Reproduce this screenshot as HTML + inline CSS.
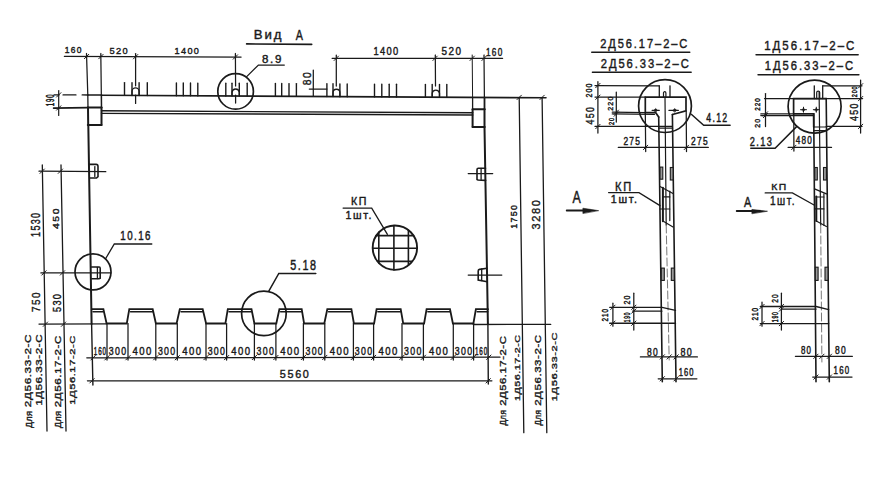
<!DOCTYPE html>
<html><head><meta charset="utf-8"><style>
html,body{margin:0;padding:0;background:#fff;}
svg{display:block;}
</style></head><body>
<svg width="893" height="477" viewBox="0 0 893 477">
<rect width="893" height="477" fill="#ffffff"/>
<g stroke="#1a1a1a" stroke-linecap="round" fill="none">
<line x1="246.6" y1="43.9" x2="311.7" y2="44.4" stroke-width="1.6"/>
<line x1="64.4" y1="56.4" x2="241.1" y2="57.1" stroke-width="1.25"/>
<line x1="332.1" y1="58.3" x2="502.6" y2="58.3" stroke-width="1.25"/>
<line x1="84.4" y1="58.7" x2="88.8" y2="54.3" stroke-width="1.0"/>
<line x1="98.7" y1="58.8" x2="103.1" y2="54.4" stroke-width="1.0"/>
<line x1="133.4" y1="58.9" x2="137.8" y2="54.5" stroke-width="1.0"/>
<line x1="233.2" y1="59.2" x2="237.6" y2="54.8" stroke-width="1.0"/>
<line x1="334.1" y1="60.5" x2="338.5" y2="56.1" stroke-width="1.0"/>
<line x1="432.9" y1="60.5" x2="437.3" y2="56.1" stroke-width="1.0"/>
<line x1="470.0" y1="60.5" x2="474.4" y2="56.1" stroke-width="1.0"/>
<line x1="481.9" y1="60.5" x2="486.3" y2="56.1" stroke-width="1.0"/>
<line x1="86.5" y1="53.5" x2="87.8" y2="95.0" stroke-width="1.25"/>
<line x1="100.8" y1="53.5" x2="101.5" y2="108.0" stroke-width="1.25"/>
<line x1="135.6" y1="53.5" x2="135.6" y2="85.8" stroke-width="1.25"/>
<line x1="135.6" y1="95.0" x2="135.6" y2="103.4" stroke-width="1.25"/>
<line x1="235.4" y1="53.5" x2="235.6" y2="86.0" stroke-width="1.25"/>
<line x1="235.6" y1="95.0" x2="235.6" y2="103.0" stroke-width="1.25"/>
<line x1="336.3" y1="55.0" x2="336.3" y2="86.0" stroke-width="1.25"/>
<line x1="435.3" y1="55.0" x2="435.5" y2="86.0" stroke-width="1.25"/>
<line x1="472.2" y1="55.0" x2="472.6" y2="97.5" stroke-width="1.0"/>
<line x1="484.0" y1="55.0" x2="484.4" y2="97.5" stroke-width="1.25"/>
<line x1="101.5" y1="95.2" x2="546.0" y2="97.8" stroke-width="1.6"/>
<line x1="54.0" y1="94.9" x2="59.0" y2="94.9" stroke-width="1.3"/>
<line x1="63.1" y1="94.9" x2="75.9" y2="94.9" stroke-width="1.4"/>
<line x1="82.2" y1="94.9" x2="87.8" y2="95.0" stroke-width="1.4"/>
<line x1="87.8" y1="95.0" x2="101.5" y2="95.0" stroke-width="1.6"/>
<line x1="124.5" y1="82.6" x2="124.5" y2="95.4" stroke-width="1.4"/>
<line x1="132.0" y1="82.7" x2="132.0" y2="95.5" stroke-width="1.4"/>
<line x1="139.1" y1="82.7" x2="139.1" y2="95.5" stroke-width="1.4"/>
<line x1="147.3" y1="82.8" x2="147.3" y2="95.6" stroke-width="1.4"/>
<path d="M132.0,94.5 V91.5 A3.5,3.5 0 0 1 139.1,91.5 V94.5" fill="none" stroke-width="1.3"/>
<line x1="176.4" y1="82.9" x2="176.4" y2="95.7" stroke-width="1.4"/>
<line x1="183.3" y1="83.0" x2="183.3" y2="95.8" stroke-width="1.4"/>
<line x1="190.5" y1="83.0" x2="190.5" y2="95.8" stroke-width="1.4"/>
<line x1="197.8" y1="83.1" x2="197.8" y2="95.9" stroke-width="1.4"/>
<line x1="225.8" y1="83.2" x2="225.8" y2="96.0" stroke-width="1.4"/>
<line x1="232.0" y1="83.3" x2="232.0" y2="96.1" stroke-width="1.4"/>
<line x1="239.3" y1="83.3" x2="239.3" y2="96.1" stroke-width="1.4"/>
<line x1="247.2" y1="83.3" x2="247.2" y2="96.1" stroke-width="1.4"/>
<path d="M232.0,95.1 V92.1 A3.7,3.7 0 0 1 239.3,92.1 V95.1" fill="none" stroke-width="1.3"/>
<line x1="275.4" y1="83.5" x2="275.4" y2="96.3" stroke-width="1.4"/>
<line x1="281.7" y1="83.5" x2="281.7" y2="96.3" stroke-width="1.4"/>
<line x1="289.0" y1="83.6" x2="289.0" y2="96.4" stroke-width="1.4"/>
<line x1="296.4" y1="83.6" x2="296.4" y2="96.4" stroke-width="1.4"/>
<line x1="326.9" y1="83.8" x2="326.9" y2="96.6" stroke-width="1.4"/>
<line x1="333.0" y1="83.8" x2="333.0" y2="96.6" stroke-width="1.4"/>
<line x1="339.9" y1="83.9" x2="339.9" y2="96.7" stroke-width="1.4"/>
<line x1="347.2" y1="83.9" x2="347.2" y2="96.7" stroke-width="1.4"/>
<path d="M333.0,95.7 V92.7 A3.4,3.4 0 0 1 339.9,92.7 V95.7" fill="none" stroke-width="1.3"/>
<line x1="374.5" y1="84.1" x2="374.5" y2="96.9" stroke-width="1.4"/>
<line x1="381.8" y1="84.1" x2="381.8" y2="96.9" stroke-width="1.4"/>
<line x1="389.2" y1="84.2" x2="389.2" y2="97.0" stroke-width="1.4"/>
<line x1="396.5" y1="84.2" x2="396.5" y2="97.0" stroke-width="1.4"/>
<line x1="425.4" y1="84.4" x2="425.4" y2="97.2" stroke-width="1.4"/>
<line x1="432.2" y1="84.4" x2="432.2" y2="97.2" stroke-width="1.4"/>
<line x1="439.5" y1="84.5" x2="439.5" y2="97.3" stroke-width="1.4"/>
<line x1="446.8" y1="84.5" x2="446.8" y2="97.3" stroke-width="1.4"/>
<path d="M432.2,96.2 V93.2 A3.7,3.7 0 0 1 439.5,93.2 V96.2" fill="none" stroke-width="1.3"/>
<line x1="313.3" y1="70.1" x2="313.3" y2="96.2" stroke-width="1.25"/>
<line x1="309.3" y1="89.1" x2="326.9" y2="89.1" stroke-width="1.25"/>
<circle cx="235.6" cy="91.4" r="17.8" fill="none" stroke-width="1.7"/>
<polyline points="246.7,76.6 258.4,65.1 284.3,65.1" fill="none" stroke-width="1.3"/>
<line x1="87.8" y1="95.0" x2="88.0" y2="107.5" stroke-width="1.3"/>
<line x1="101.5" y1="95.0" x2="101.5" y2="107.5" stroke-width="1.3"/>
<line x1="88.0" y1="107.5" x2="88.2" y2="125.0" stroke-width="2.0"/>
<line x1="101.5" y1="107.5" x2="101.5" y2="125.0" stroke-width="2.0"/>
<line x1="87.8" y1="107.5" x2="101.5" y2="107.5" stroke-width="2.0"/>
<line x1="87.8" y1="125.0" x2="101.5" y2="125.0" stroke-width="2.0"/>
<line x1="58.7" y1="90.5" x2="58.7" y2="115.4" stroke-width="1.2"/>
<line x1="56.5" y1="97.1" x2="60.9" y2="92.7" stroke-width="1.0"/>
<line x1="56.5" y1="110.2" x2="60.9" y2="105.8" stroke-width="1.0"/>
<line x1="53.6" y1="108.1" x2="87.8" y2="107.6" stroke-width="1.7"/>
<line x1="101.5" y1="110.8" x2="472.8" y2="112.8" stroke-width="1.4"/>
<line x1="101.5" y1="113.4" x2="472.8" y2="115.0" stroke-width="1.4"/>
<line x1="472.6" y1="97.5" x2="472.6" y2="109.3" stroke-width="1.3"/>
<line x1="484.5" y1="97.5" x2="484.5" y2="109.3" stroke-width="1.8"/>
<line x1="472.6" y1="109.3" x2="472.6" y2="127.0" stroke-width="2.0"/>
<line x1="484.5" y1="109.3" x2="484.5" y2="127.0" stroke-width="2.0"/>
<line x1="472.6" y1="109.3" x2="484.5" y2="109.3" stroke-width="2.0"/>
<line x1="472.6" y1="127.0" x2="484.5" y2="127.0" stroke-width="2.0"/>
<line x1="88.3" y1="125.0" x2="91.6" y2="324.0" stroke-width="2.0"/>
<line x1="91.6" y1="324.0" x2="92.9" y2="385.0" stroke-width="1.4"/>
<line x1="484.5" y1="127.0" x2="487.9" y2="324.0" stroke-width="2.0"/>
<line x1="487.9" y1="324.0" x2="488.3" y2="384.0" stroke-width="1.4"/>
<line x1="519.2" y1="97.4" x2="523.8" y2="432.7" stroke-width="1.3"/>
<line x1="542.1" y1="97.4" x2="546.8" y2="432.7" stroke-width="1.3"/>
<line x1="517.0" y1="99.6" x2="521.4" y2="95.2" stroke-width="1.0"/>
<line x1="539.9" y1="99.6" x2="544.3" y2="95.2" stroke-width="1.0"/>
<line x1="40.0" y1="173.4" x2="44.4" y2="169.0" stroke-width="1.0"/>
<line x1="58.2" y1="173.4" x2="62.6" y2="169.0" stroke-width="1.0"/>
<line x1="41.8" y1="275.1" x2="46.2" y2="270.7" stroke-width="1.0"/>
<line x1="60.3" y1="275.1" x2="64.7" y2="270.7" stroke-width="1.0"/>
<line x1="39.0" y1="324.1" x2="106.0" y2="323.9" stroke-width="1.3"/>
<line x1="43.2" y1="326.4" x2="47.6" y2="322.0" stroke-width="1.0"/>
<line x1="61.3" y1="326.4" x2="65.7" y2="322.0" stroke-width="1.0"/>
<path d="M89.2,164.4 H96.2 Q98,164.4 98,166.6 V176.7 L96.5,178 H90.3" fill="none" stroke-width="1.6"/>
<line x1="94.8" y1="166.6" x2="94.8" y2="176.4" stroke-width="1.3"/>
<line x1="39.0" y1="171.2" x2="105.8" y2="171.7" stroke-width="1.25"/>
<path d="M91.6,267 H99.2 Q100.2,267 100.2,268.5 V278.3 L99,278.8 H91.8" fill="none" stroke-width="1.6"/>
<line x1="97.4" y1="267.3" x2="97.4" y2="278.6" stroke-width="1.3"/>
<line x1="40.9" y1="272.9" x2="111.0" y2="272.9" stroke-width="1.25"/>
<path d="M485.5,168.2 H478.3 Q477,168.2 477,169.8 V179.5 L478,180 L485.6,180.4" fill="none" stroke-width="1.6"/>
<line x1="481.1" y1="168.5" x2="481.1" y2="179.5" stroke-width="1.3"/>
<line x1="468.2" y1="173.5" x2="492.7" y2="173.5" stroke-width="1.25"/>
<path d="M487,268.2 L479.5,269.4 Q478.2,269.6 478.2,271 V280.1 L487.2,281.7" fill="none" stroke-width="1.6"/>
<line x1="481.7" y1="269.0" x2="481.7" y2="280.6" stroke-width="1.3"/>
<line x1="468.2" y1="275.1" x2="501.8" y2="275.1" stroke-width="1.25"/>
<circle cx="93.0" cy="271.8" r="18.0" fill="none" stroke-width="1.7"/>
<polyline points="105.4,259.0 114.3,244.0 151.8,244.0" fill="none" stroke-width="1.3"/>
<circle cx="394.9" cy="247.7" r="22.2" fill="none" stroke-width="1.9"/>
<line x1="378.8" y1="232.4" x2="378.8" y2="263.0" stroke-width="1.6"/>
<line x1="393.9" y1="225.5" x2="393.9" y2="269.9" stroke-width="1.6"/>
<line x1="408.4" y1="230.1" x2="408.4" y2="265.3" stroke-width="1.6"/>
<line x1="376.3" y1="235.6" x2="413.5" y2="235.6" stroke-width="1.6"/>
<line x1="372.7" y1="248.2" x2="417.1" y2="248.2" stroke-width="1.6"/>
<line x1="377.4" y1="261.4" x2="412.4" y2="261.4" stroke-width="1.6"/>
<polyline points="343.1,208.1 371.7,208.1 387.4,234.3" fill="none" stroke-width="1.3"/>
<polyline points="91.8,309.2 103.4,309.2 106.6,323.5 126.8,323.5 129.3,309.2 152.7,309.2 155.9,323.5 176.6,323.5 179.8,309.2 202.7,309.2 206.1,323.5 225.4,323.5 227.8,309.2 251.5,309.2 254.4,323.5 276.3,323.5 279.4,309.2 301.7,309.2 304.1,323.5 324.3,323.5 327.3,309.2 351.4,309.2 353.9,323.5 374.1,323.5 376.6,309.2 400.7,309.2 403.2,323.5 424.1,323.5 426.6,309.2 450.0,309.2 452.9,323.5 473.4,323.5 475.9,309.2 488.0,309.2" fill="none" stroke-width="1.8"/>
<line x1="93.0" y1="311.8" x2="103.2" y2="311.8" stroke-width="1.5"/>
<line x1="130.5" y1="311.8" x2="152.5" y2="311.8" stroke-width="1.5"/>
<line x1="181.0" y1="311.8" x2="202.5" y2="311.8" stroke-width="1.5"/>
<line x1="229.0" y1="311.8" x2="251.3" y2="311.8" stroke-width="1.5"/>
<line x1="280.6" y1="311.8" x2="301.5" y2="311.8" stroke-width="1.5"/>
<line x1="328.5" y1="311.8" x2="351.2" y2="311.8" stroke-width="1.5"/>
<line x1="377.8" y1="311.8" x2="400.5" y2="311.8" stroke-width="1.5"/>
<line x1="427.8" y1="311.8" x2="449.8" y2="311.8" stroke-width="1.5"/>
<line x1="477.1" y1="311.8" x2="487.8" y2="311.8" stroke-width="1.5"/>
<circle cx="263.9" cy="313.4" r="22.3" fill="none" stroke-width="1.7"/>
<polyline points="268.8,291.2 278.8,273.5 315.8,273.5" fill="none" stroke-width="1.5"/>
<line x1="107.0" y1="323.5" x2="107.0" y2="360.0" stroke-width="1.25"/>
<line x1="128.0" y1="323.5" x2="128.0" y2="360.0" stroke-width="1.25"/>
<line x1="155.8" y1="323.5" x2="155.8" y2="360.0" stroke-width="1.25"/>
<line x1="177.3" y1="323.5" x2="177.3" y2="360.0" stroke-width="1.25"/>
<line x1="206.0" y1="323.5" x2="206.0" y2="360.0" stroke-width="1.25"/>
<line x1="226.6" y1="323.5" x2="226.6" y2="360.0" stroke-width="1.25"/>
<line x1="254.4" y1="323.5" x2="254.4" y2="360.0" stroke-width="1.25"/>
<line x1="275.9" y1="323.5" x2="275.9" y2="360.0" stroke-width="1.25"/>
<line x1="303.4" y1="323.5" x2="303.4" y2="360.0" stroke-width="1.25"/>
<line x1="324.8" y1="323.5" x2="324.8" y2="360.0" stroke-width="1.25"/>
<line x1="353.4" y1="323.5" x2="353.4" y2="360.0" stroke-width="1.25"/>
<line x1="373.6" y1="323.5" x2="373.6" y2="360.0" stroke-width="1.25"/>
<line x1="402.0" y1="323.5" x2="402.0" y2="360.0" stroke-width="1.25"/>
<line x1="423.4" y1="323.5" x2="423.4" y2="360.0" stroke-width="1.25"/>
<line x1="453.3" y1="323.5" x2="453.3" y2="360.0" stroke-width="1.25"/>
<line x1="473.6" y1="323.5" x2="473.6" y2="360.0" stroke-width="1.25"/>
<line x1="86.8" y1="357.8" x2="500.0" y2="357.2" stroke-width="1.3"/>
<line x1="90.9" y1="360.0" x2="95.3" y2="355.6" stroke-width="1.0"/>
<line x1="104.8" y1="360.0" x2="109.2" y2="355.6" stroke-width="1.0"/>
<line x1="125.8" y1="359.9" x2="130.2" y2="355.5" stroke-width="1.0"/>
<line x1="153.6" y1="359.9" x2="158.0" y2="355.5" stroke-width="1.0"/>
<line x1="175.1" y1="359.9" x2="179.5" y2="355.5" stroke-width="1.0"/>
<line x1="203.8" y1="359.8" x2="208.2" y2="355.4" stroke-width="1.0"/>
<line x1="224.4" y1="359.8" x2="228.8" y2="355.4" stroke-width="1.0"/>
<line x1="252.2" y1="359.7" x2="256.6" y2="355.3" stroke-width="1.0"/>
<line x1="273.7" y1="359.7" x2="278.1" y2="355.3" stroke-width="1.0"/>
<line x1="301.2" y1="359.7" x2="305.6" y2="355.3" stroke-width="1.0"/>
<line x1="322.6" y1="359.6" x2="327.0" y2="355.2" stroke-width="1.0"/>
<line x1="351.2" y1="359.6" x2="355.6" y2="355.2" stroke-width="1.0"/>
<line x1="371.4" y1="359.6" x2="375.8" y2="355.2" stroke-width="1.0"/>
<line x1="399.8" y1="359.5" x2="404.2" y2="355.1" stroke-width="1.0"/>
<line x1="421.2" y1="359.5" x2="425.6" y2="355.1" stroke-width="1.0"/>
<line x1="451.1" y1="359.5" x2="455.5" y2="355.1" stroke-width="1.0"/>
<line x1="471.4" y1="359.4" x2="475.8" y2="355.0" stroke-width="1.0"/>
<line x1="486.6" y1="359.4" x2="491.0" y2="355.0" stroke-width="1.0"/>
<line x1="87.4" y1="380.8" x2="491.9" y2="380.8" stroke-width="1.25"/>
<line x1="89.8" y1="383.0" x2="94.2" y2="378.6" stroke-width="1.0"/>
<line x1="486.0" y1="383.0" x2="490.4" y2="378.6" stroke-width="1.0"/>
<line x1="42.3" y1="165.0" x2="47.0" y2="431.0" stroke-width="1.3"/>
<line x1="61.0" y1="165.0" x2="66.0" y2="431.0" stroke-width="1.3"/>
<line x1="473.2" y1="324.5" x2="550.7" y2="324.4" stroke-width="1.3"/>
<line x1="591.7" y1="52.2" x2="689.8" y2="52.2" stroke-width="1.4"/>
<line x1="592.4" y1="72.3" x2="691.2" y2="72.3" stroke-width="1.4"/>
<circle cx="665.0" cy="106.1" r="26.4" fill="none" stroke-width="1.7"/>
<line x1="597.9" y1="81.7" x2="597.9" y2="133.0" stroke-width="1.25"/>
<line x1="595.7" y1="87.7" x2="600.1" y2="83.3" stroke-width="1.0"/>
<line x1="595.7" y1="99.4" x2="600.1" y2="95.0" stroke-width="1.0"/>
<line x1="595.7" y1="128.7" x2="600.1" y2="124.3" stroke-width="1.0"/>
<line x1="595.0" y1="85.6" x2="659.3" y2="85.8" stroke-width="1.25"/>
<line x1="595.0" y1="97.1" x2="645.3" y2="97.1" stroke-width="1.25"/>
<line x1="595.0" y1="126.4" x2="672.4" y2="126.4" stroke-width="1.25"/>
<line x1="616.3" y1="92.1" x2="616.3" y2="122.0" stroke-width="1.25"/>
<line x1="614.1" y1="114.5" x2="618.5" y2="110.1" stroke-width="1.0"/>
<line x1="614.1" y1="116.3" x2="618.5" y2="111.9" stroke-width="1.0"/>
<line x1="612.3" y1="112.2" x2="645.3" y2="112.7" stroke-width="1.25"/>
<line x1="612.3" y1="113.9" x2="654.5" y2="114.3" stroke-width="1.25"/>
<polyline points="658.7,117.0 655.7,112.7 645.3,112.7 645.3,97.1 686.0,97.1 686.0,110.9 672.4,114.5" fill="none" stroke-width="1.7"/>
<line x1="659.3" y1="85.8" x2="659.3" y2="97.1" stroke-width="1.3"/>
<path d="M663.5,97.1 V92.9 A1.2,1.2 0 0 1 665.9,92.9 V97.1" fill="none" stroke-width="1.2"/>
<line x1="670.0" y1="85.8" x2="670.0" y2="97.1" stroke-width="1.3"/>
<line x1="652.1" y1="110.3" x2="659.3" y2="110.3" stroke-width="1.25"/>
<line x1="668.9" y1="110.3" x2="678.4" y2="110.3" stroke-width="1.25"/>
<path d="M653.9,110.3 L655.7,108.5 L657.5,110.3 L655.7,112.1 Z" fill="#1a1a1a" stroke-width="0.6"/>
<path d="M673.0,110.3 L674.8,108.5 L676.6,110.3 L674.8,112.1 Z" fill="#1a1a1a" stroke-width="0.6"/>
<line x1="658.7" y1="117.0" x2="662.3" y2="381.8" stroke-width="1.6"/>
<line x1="672.4" y1="114.5" x2="676.0" y2="381.8" stroke-width="1.6"/>
<line x1="665.0" y1="97.1" x2="666.2" y2="225.0" stroke-width="1.2"/>
<line x1="666.2" y1="225" x2="669.2" y2="360" stroke-width="0.8" stroke-dasharray="8,3" stroke="#555"/>
<line x1="658.9" y1="128.2" x2="672.6" y2="128.2" stroke-width="1.25"/>
<line x1="645.3" y1="112.7" x2="645.7" y2="151.6" stroke-width="1.25"/>
<line x1="686.2" y1="110.9" x2="686.5" y2="151.6" stroke-width="1.25"/>
<line x1="618.3" y1="147.4" x2="708.3" y2="147.4" stroke-width="1.25"/>
<line x1="643.4" y1="149.6" x2="647.8" y2="145.2" stroke-width="1.0"/>
<line x1="684.2" y1="149.6" x2="688.6" y2="145.2" stroke-width="1.0"/>
<polyline points="691.3,114.2 703.7,125.2 730.1,125.2" fill="none" stroke-width="1.5"/>
<line x1="566.7" y1="210.5" x2="590.0" y2="210.5" stroke-width="1.8"/>
<path d="M598.3,210.6 L582.9,208.2 L582.9,213.2 Z" fill="#1a1a1a" stroke-width="0.6"/>
<polyline points="608.6,192.6 639.0,192.6 660.0,205.6" fill="none" stroke-width="1.3"/>
<rect x="660.0" y="167.1" width="2.8" height="12.1" fill="#9a9a9a" stroke-width="1.1"/>
<rect x="670.3" y="167.5" width="2.8" height="12.5" fill="#9a9a9a" stroke-width="1.1"/>
<rect x="661.3" y="268.1" width="3.0" height="12.3" fill="#9a9a9a" stroke-width="1.1"/>
<rect x="671.3" y="268.1" width="3.0" height="12.3" fill="#9a9a9a" stroke-width="1.1"/>
<line x1="660.0" y1="186.5" x2="673.0" y2="193.5" stroke-width="1.3"/>
<line x1="662.9" y1="187.7" x2="662.9" y2="221.2" stroke-width="2.0"/>
<line x1="669.8" y1="191.2" x2="669.8" y2="220.6" stroke-width="1.2"/>
<line x1="662.9" y1="196.9" x2="669.8" y2="196.9" stroke-width="1.2"/>
<line x1="660.0" y1="209.0" x2="669.8" y2="209.0" stroke-width="1.2"/>
<line x1="662.9" y1="221.0" x2="673.0" y2="227.0" stroke-width="1.2"/>
<polyline points="609.7,307.3 662.0,307.3 675.5,310.3" fill="none" stroke-width="1.3"/>
<line x1="632.6" y1="311.1" x2="662.0" y2="311.1" stroke-width="1.2"/>
<line x1="609.7" y1="323.2" x2="675.5" y2="323.2" stroke-width="1.4"/>
<line x1="612.9" y1="303.2" x2="612.9" y2="326.2" stroke-width="1.25"/>
<line x1="610.7" y1="309.5" x2="615.1" y2="305.1" stroke-width="1.0"/>
<line x1="610.7" y1="325.4" x2="615.1" y2="321.0" stroke-width="1.0"/>
<line x1="633.8" y1="293.2" x2="633.8" y2="330.0" stroke-width="1.25"/>
<line x1="631.6" y1="309.5" x2="636.0" y2="305.1" stroke-width="1.0"/>
<line x1="631.6" y1="313.3" x2="636.0" y2="308.9" stroke-width="1.0"/>
<line x1="631.6" y1="325.4" x2="636.0" y2="321.0" stroke-width="1.0"/>
<line x1="640.4" y1="356.9" x2="697.4" y2="356.9" stroke-width="1.25"/>
<line x1="658.2" y1="378.8" x2="696.9" y2="378.8" stroke-width="1.25"/>
<line x1="660.1" y1="359.1" x2="664.5" y2="354.7" stroke-width="1.0"/>
<line x1="667.0" y1="359.1" x2="671.4" y2="354.7" stroke-width="1.0"/>
<line x1="673.9" y1="359.1" x2="678.3" y2="354.7" stroke-width="1.0"/>
<line x1="660.1" y1="381.0" x2="664.5" y2="376.6" stroke-width="1.0"/>
<line x1="673.9" y1="381.0" x2="678.3" y2="376.6" stroke-width="1.0"/>
<line x1="756.0" y1="54.8" x2="858.2" y2="54.8" stroke-width="1.4"/>
<line x1="758.0" y1="74.7" x2="858.9" y2="74.7" stroke-width="1.4"/>
<circle cx="814.6" cy="106.6" r="26.5" fill="none" stroke-width="1.7"/>
<line x1="860.6" y1="80.0" x2="860.6" y2="133.0" stroke-width="1.25"/>
<line x1="858.4" y1="88.0" x2="862.8" y2="83.6" stroke-width="1.0"/>
<line x1="858.4" y1="100.8" x2="862.8" y2="96.4" stroke-width="1.0"/>
<line x1="858.4" y1="128.6" x2="862.8" y2="124.2" stroke-width="1.0"/>
<line x1="822.7" y1="85.8" x2="862.0" y2="85.8" stroke-width="1.25"/>
<line x1="764.5" y1="98.6" x2="862.6" y2="98.6" stroke-width="1.25"/>
<line x1="826.2" y1="126.4" x2="862.0" y2="126.4" stroke-width="1.25"/>
<line x1="765.5" y1="93.6" x2="765.5" y2="126.6" stroke-width="1.25"/>
<line x1="763.3" y1="116.1" x2="767.7" y2="111.7" stroke-width="1.0"/>
<line x1="763.3" y1="117.7" x2="767.7" y2="113.3" stroke-width="1.0"/>
<line x1="760.8" y1="113.9" x2="793.6" y2="113.9" stroke-width="1.25"/>
<line x1="760.8" y1="115.5" x2="813.7" y2="115.5" stroke-width="1.25"/>
<polyline points="813.7,127.0 813.7,113.9 793.6,113.9 793.6,98.6 826.2,98.6" fill="none" stroke-width="1.7"/>
<line x1="814.3" y1="85.8" x2="814.3" y2="98.6" stroke-width="1.3"/>
<path d="M816.7,98.6 V92.6 A1.5,1.5 0 0 1 819.7,92.6 V98.6" fill="none" stroke-width="1.2"/>
<line x1="822.7" y1="85.8" x2="822.7" y2="98.6" stroke-width="1.3"/>
<line x1="800.5" y1="109.7" x2="806.5" y2="109.7" stroke-width="1.0"/>
<line x1="803.5" y1="107.2" x2="803.5" y2="112.2" stroke-width="1.0"/>
<path d="M801.9,109.7 L803.5,108.1 L805.1,109.7 L803.5,111.3 Z" fill="#1a1a1a" stroke-width="0.5"/>
<line x1="813.3" y1="109.7" x2="819.3" y2="109.7" stroke-width="1.0"/>
<line x1="816.3" y1="107.2" x2="816.3" y2="112.2" stroke-width="1.0"/>
<path d="M814.7,109.7 L816.3,108.1 L817.9,109.7 L816.3,111.3 Z" fill="#1a1a1a" stroke-width="0.5"/>
<line x1="813.7" y1="113.9" x2="816.0" y2="381.7" stroke-width="1.6"/>
<line x1="826.2" y1="98.6" x2="829.3" y2="381.7" stroke-width="1.6"/>
<line x1="819.1" y1="92.3" x2="820.7" y2="225.0" stroke-width="1.2"/>
<line x1="820.7" y1="225" x2="821.9" y2="362" stroke-width="0.8" stroke-dasharray="8,3" stroke="#555"/>
<line x1="813.7" y1="127.0" x2="826.2" y2="127.0" stroke-width="1.2"/>
<line x1="813.7" y1="130.6" x2="826.2" y2="130.6" stroke-width="1.25"/>
<line x1="793.8" y1="114.0" x2="793.9" y2="151.1" stroke-width="1.25"/>
<line x1="788.1" y1="147.4" x2="831.5" y2="147.4" stroke-width="1.25"/>
<line x1="791.6" y1="149.6" x2="796.0" y2="145.2" stroke-width="1.0"/>
<polyline points="796.6,126.6 775.1,148.3 750.8,148.3" fill="none" stroke-width="1.5"/>
<line x1="736.7" y1="211.0" x2="760.0" y2="211.0" stroke-width="1.8"/>
<path d="M767.1,211.2 L751.9,209.4 L751.9,213.4 Z" fill="#1a1a1a" stroke-width="0.6"/>
<polyline points="765.2,192.9 792.4,192.9 814.5,205.2" fill="none" stroke-width="1.3"/>
<rect x="814.8" y="167.5" width="2.5" height="12.5" fill="#9a9a9a" stroke-width="1.1"/>
<rect x="823.5" y="167.5" width="2.9" height="12.5" fill="#9a9a9a" stroke-width="1.1"/>
<rect x="815.3" y="267.2" width="2.8" height="13.2" fill="#9a9a9a" stroke-width="1.1"/>
<rect x="825.0" y="267.2" width="3.0" height="13.2" fill="#9a9a9a" stroke-width="1.1"/>
<line x1="814.5" y1="188.8" x2="826.4" y2="193.9" stroke-width="1.3"/>
<line x1="816.3" y1="196.4" x2="816.3" y2="220.9" stroke-width="2.0"/>
<line x1="823.9" y1="193.9" x2="823.9" y2="225.3" stroke-width="1.2"/>
<line x1="816.3" y1="197.0" x2="823.9" y2="197.0" stroke-width="1.2"/>
<line x1="814.5" y1="208.9" x2="823.9" y2="208.9" stroke-width="1.2"/>
<line x1="816.3" y1="220.9" x2="826.4" y2="226.5" stroke-width="1.2"/>
<polyline points="760.3,306.5 816.1,306.5 828.7,309.7" fill="none" stroke-width="1.3"/>
<line x1="781.4" y1="309.1" x2="816.1" y2="309.1" stroke-width="1.2"/>
<line x1="760.3" y1="323.6" x2="828.7" y2="323.6" stroke-width="1.4"/>
<line x1="762.0" y1="302.0" x2="762.0" y2="326.2" stroke-width="1.25"/>
<line x1="759.8" y1="308.7" x2="764.2" y2="304.3" stroke-width="1.0"/>
<line x1="759.8" y1="325.8" x2="764.2" y2="321.4" stroke-width="1.0"/>
<line x1="781.4" y1="293.2" x2="781.4" y2="330.0" stroke-width="1.25"/>
<line x1="779.2" y1="308.7" x2="783.6" y2="304.3" stroke-width="1.0"/>
<line x1="779.2" y1="311.3" x2="783.6" y2="306.9" stroke-width="1.0"/>
<line x1="779.2" y1="325.8" x2="783.6" y2="321.4" stroke-width="1.0"/>
<line x1="795.4" y1="356.3" x2="852.4" y2="356.3" stroke-width="1.25"/>
<line x1="812.7" y1="377.1" x2="852.0" y2="377.1" stroke-width="1.25"/>
<line x1="813.7" y1="358.5" x2="818.1" y2="354.1" stroke-width="1.0"/>
<line x1="819.7" y1="358.5" x2="824.1" y2="354.1" stroke-width="1.0"/>
<line x1="827.2" y1="358.5" x2="831.6" y2="354.1" stroke-width="1.0"/>
<line x1="813.7" y1="379.3" x2="818.1" y2="374.9" stroke-width="1.0"/>
<line x1="827.2" y1="379.3" x2="831.6" y2="374.9" stroke-width="1.0"/>
</g>
<g fill="#1a1a1a" stroke="#1a1a1a" font-size="200" font-family="'Liberation Sans', sans-serif" xml:space="preserve">
<text font-weight="normal" letter-spacing="30" stroke-width="6.30" transform="matrix(0.0659,0.0000,0.0000,0.0612,253.7453,38.8506)">Вид</text>
<text font-weight="normal" letter-spacing="30" stroke-width="6.55" transform="matrix(0.0538,0.0000,0.0000,0.0693,295.8462,39.9000)">А</text>
<text font-weight="normal" letter-spacing="30" stroke-width="8.95" transform="matrix(0.0423,0.0000,0.0000,0.0472,64.8652,53.1056)">160</text>
<text font-weight="normal" letter-spacing="30" stroke-width="8.56" transform="matrix(0.0463,0.0000,0.0000,0.0472,109.5296,54.0056)">520</text>
<text font-weight="normal" letter-spacing="30" stroke-width="8.70" transform="matrix(0.0455,0.0000,0.0000,0.0465,174.6174,54.3070)">1400</text>
<text font-weight="normal" letter-spacing="30" stroke-width="8.02" transform="matrix(0.0465,0.0000,0.0000,0.0535,373.4027,55.2930)">1400</text>
<text font-weight="normal" letter-spacing="30" stroke-width="8.02" transform="matrix(0.0497,0.0000,0.0000,0.0500,441.4021,54.8000)">520</text>
<text font-weight="normal" letter-spacing="30" stroke-width="8.27" transform="matrix(0.0410,0.0000,0.0000,0.0570,486.0854,55.7859)">160</text>
<text font-weight="normal" letter-spacing="30" stroke-width="7.37" transform="matrix(0.0000,-0.0517,0.0570,0.0000,311.1859,85.2653)">80</text>
<text font-weight="normal" letter-spacing="30" stroke-width="6.97" transform="matrix(0.0577,0.0000,0.0000,0.0570,261.8809,62.8859)">8.9</text>
<text font-weight="normal" letter-spacing="30" stroke-width="10.04" transform="matrix(0.0000,-0.0296,0.0535,0.0000,53.5930,106.1447)">190</text>
<text font-weight="normal" letter-spacing="30" stroke-width="8.56" transform="matrix(0.0000,-0.0443,0.0493,0.0000,516.5014,228.7650)">1750</text>
<text font-weight="normal" letter-spacing="30" stroke-width="7.20" transform="matrix(0.0000,-0.0547,0.0563,0.0000,540.0873,229.5378)">3280</text>
<text font-weight="normal" letter-spacing="30" stroke-width="7.56" transform="matrix(0.0000,-0.0451,0.0620,0.0000,40.1761,236.9768)">1530</text>
<text font-weight="normal" letter-spacing="30" stroke-width="8.35" transform="matrix(0.0000,-0.0517,0.0444,0.0000,59.1113,228.9585)">450</text>
<text font-weight="normal" letter-spacing="30" stroke-width="7.91" transform="matrix(0.0000,-0.0497,0.0514,0.0000,40.4972,312.0973)">750</text>
<text font-weight="normal" letter-spacing="30" stroke-width="7.90" transform="matrix(0.0000,-0.0455,0.0563,0.0000,61.3873,311.9640)">530</text>
<text font-weight="normal" letter-spacing="30" stroke-width="7.17" transform="matrix(0.0486,0.0000,0.0000,0.0641,120.3714,240.3718)">10.16</text>
<text font-weight="normal" letter-spacing="30" stroke-width="7.60" transform="matrix(0.0531,0.0000,0.0000,0.0522,350.9504,205.4000)">КП</text>
<text font-weight="normal" letter-spacing="30" stroke-width="7.33" transform="matrix(0.0534,0.0000,0.0000,0.0558,345.4987,218.5000)">1шт.</text>
<text font-weight="normal" letter-spacing="30" stroke-width="6.42" transform="matrix(0.0540,0.0000,0.0000,0.0718,290.1680,270.2563)">5.18</text>
<text font-weight="normal" letter-spacing="30" stroke-width="7.24" transform="matrix(0.0541,0.0000,0.0000,0.0563,279.8669,378.3873)">5560</text>
<text font-weight="normal" letter-spacing="30" stroke-width="9.47" transform="matrix(0.0313,0.0000,0.0000,0.0570,93.7810,354.7859)">160</text>
<text font-weight="normal" letter-spacing="30" stroke-width="7.99" transform="matrix(0.0439,0.0000,0.0000,0.0570,108.8487,354.7859)">300</text>
<text font-weight="normal" letter-spacing="30" stroke-width="7.66" transform="matrix(0.0478,0.0000,0.0000,0.0570,132.5612,354.7859)">400</text>
<text font-weight="normal" letter-spacing="30" stroke-width="7.99" transform="matrix(0.0439,0.0000,0.0000,0.0570,157.8987,354.7859)">300</text>
<text font-weight="normal" letter-spacing="30" stroke-width="7.66" transform="matrix(0.0478,0.0000,0.0000,0.0570,182.3112,354.7859)">400</text>
<text font-weight="normal" letter-spacing="30" stroke-width="7.99" transform="matrix(0.0439,0.0000,0.0000,0.0570,207.6487,354.7859)">300</text>
<text font-weight="normal" letter-spacing="30" stroke-width="7.66" transform="matrix(0.0478,0.0000,0.0000,0.0570,231.1612,354.7859)">400</text>
<text font-weight="normal" letter-spacing="30" stroke-width="7.99" transform="matrix(0.0439,0.0000,0.0000,0.0570,256.4987,354.7859)">300</text>
<text font-weight="normal" letter-spacing="30" stroke-width="7.66" transform="matrix(0.0478,0.0000,0.0000,0.0570,280.3112,354.7859)">400</text>
<text font-weight="normal" letter-spacing="30" stroke-width="7.99" transform="matrix(0.0439,0.0000,0.0000,0.0570,305.4487,354.7859)">300</text>
<text font-weight="normal" letter-spacing="30" stroke-width="7.66" transform="matrix(0.0478,0.0000,0.0000,0.0570,329.7612,354.7859)">400</text>
<text font-weight="normal" letter-spacing="30" stroke-width="7.99" transform="matrix(0.0439,0.0000,0.0000,0.0570,354.8487,354.7859)">300</text>
<text font-weight="normal" letter-spacing="30" stroke-width="7.66" transform="matrix(0.0478,0.0000,0.0000,0.0570,378.4612,354.7859)">400</text>
<text font-weight="normal" letter-spacing="30" stroke-width="7.99" transform="matrix(0.0439,0.0000,0.0000,0.0570,404.0487,354.7859)">300</text>
<text font-weight="normal" letter-spacing="30" stroke-width="7.66" transform="matrix(0.0478,0.0000,0.0000,0.0570,429.0112,354.7859)">400</text>
<text font-weight="normal" letter-spacing="30" stroke-width="7.99" transform="matrix(0.0439,0.0000,0.0000,0.0570,454.7987,354.7859)">300</text>
<text font-weight="normal" letter-spacing="30" stroke-width="9.47" transform="matrix(0.0313,0.0000,0.0000,0.0570,474.9310,354.7859)">160</text>
<text font-weight="normal" letter-spacing="10" stroke-width="8.62" transform="matrix(0.0000,-0.0445,0.0483,0.0000,31.8674,428.0445)">Для</text>
<text font-weight="normal" letter-spacing="10" stroke-width="7.77" transform="matrix(0.0000,-0.0589,0.0450,0.0000,31.0000,407.1887)">2Д56.33-2-С</text>
<text font-weight="normal" letter-spacing="10" stroke-width="8.21" transform="matrix(0.0000,-0.0578,0.0411,0.0000,41.9556,405.8669)">1Д56.33-2-С</text>
<text font-weight="normal" letter-spacing="10" stroke-width="8.89" transform="matrix(0.0000,-0.0445,0.0455,0.0000,61.4798,428.0445)">Для</text>
<text font-weight="normal" letter-spacing="10" stroke-width="7.84" transform="matrix(0.0000,-0.0579,0.0450,0.0000,61.0000,407.1788)">2Д56.17-2-С</text>
<text font-weight="normal" letter-spacing="10" stroke-width="8.64" transform="matrix(0.0000,-0.0559,0.0383,0.0000,75.0667,404.7384)">1Д56.17-2-С</text>
<text font-weight="normal" letter-spacing="10" stroke-width="9.60" transform="matrix(0.0000,-0.0402,0.0433,0.0000,506.1697,425.5402)">Для</text>
<text font-weight="normal" letter-spacing="10" stroke-width="8.14" transform="matrix(0.0000,-0.0564,0.0428,0.0000,506.1889,405.8640)">2Д56.17-2-С</text>
<text font-weight="normal" letter-spacing="10" stroke-width="9.63" transform="matrix(0.0000,-0.0536,0.0322,0.0000,519.9111,401.1038)">1Д56.17-2-С</text>
<text font-weight="normal" letter-spacing="10" stroke-width="9.66" transform="matrix(0.0000,-0.0402,0.0427,0.0000,540.8921,425.5402)">Для</text>
<text font-weight="normal" letter-spacing="10" stroke-width="8.12" transform="matrix(0.0000,-0.0575,0.0422,0.0000,540.9111,405.8747)">2Д56.33-2-С</text>
<text font-weight="normal" letter-spacing="10" stroke-width="8.48" transform="matrix(0.0000,-0.0556,0.0400,0.0000,557.4000,401.1347)">1Д56.33-2-С</text>
<text font-weight="normal" letter-spacing="35" stroke-width="6.75" transform="matrix(0.0554,0.0000,0.0000,0.0634,600.1464,48.4732)">2Д56.17–2–С</text>
<text font-weight="normal" letter-spacing="35" stroke-width="6.72" transform="matrix(0.0559,0.0000,0.0000,0.0634,600.7412,67.9732)">2Д56.33–2–С</text>
<text font-weight="normal" letter-spacing="30" stroke-width="10.39" transform="matrix(0.0000,-0.0356,0.0415,0.0000,591.8169,97.4564)">200</text>
<text font-weight="normal" letter-spacing="30" stroke-width="7.90" transform="matrix(0.0000,-0.0444,0.0577,0.0000,594.0845,124.4218)">450</text>
<text font-weight="normal" letter-spacing="30" stroke-width="11.52" transform="matrix(0.0000,-0.0356,0.0338,0.0000,613.1324,110.6564)">220</text>
<text font-weight="normal" letter-spacing="30" stroke-width="12.33" transform="matrix(0.0000,-0.0277,0.0380,0.0000,613.7239,124.9766)">20</text>
<text font-weight="normal" letter-spacing="30" stroke-width="8.45" transform="matrix(0.0419,0.0000,0.0000,0.0535,623.3813,145.0930)">275</text>
<text font-weight="normal" letter-spacing="30" stroke-width="8.45" transform="matrix(0.0419,0.0000,0.0000,0.0535,691.0813,145.0930)">275</text>
<text font-weight="normal" letter-spacing="30" stroke-width="7.54" transform="matrix(0.0437,0.0000,0.0000,0.0643,706.2812,121.8000)">4.12</text>
<text font-weight="normal" letter-spacing="30" stroke-width="5.54" transform="matrix(0.0621,0.0000,0.0000,0.0839,572.5379,203.4000)">А</text>
<text font-weight="normal" letter-spacing="30" stroke-width="6.89" transform="matrix(0.0554,0.0000,0.0000,0.0609,615.1132,190.9000)">КП</text>
<text font-weight="normal" letter-spacing="30" stroke-width="7.55" transform="matrix(0.0539,0.0000,0.0000,0.0522,610.7921,202.9000)">1шт.</text>
<text font-weight="normal" letter-spacing="30" stroke-width="10.43" transform="matrix(0.0000,-0.0316,0.0465,0.0000,607.6070,321.5165)">210</text>
<text font-weight="normal" letter-spacing="30" stroke-width="10.21" transform="matrix(0.0000,-0.0357,0.0430,0.0000,630.0141,304.5574)">20</text>
<text font-weight="normal" letter-spacing="30" stroke-width="11.91" transform="matrix(0.0000,-0.0243,0.0465,0.0000,629.7070,322.1639)">190</text>
<text font-weight="normal" letter-spacing="30" stroke-width="8.40" transform="matrix(0.0424,0.0000,0.0000,0.0535,647.1186,355.9930)">80</text>
<text font-weight="normal" letter-spacing="30" stroke-width="8.16" transform="matrix(0.0449,0.0000,0.0000,0.0535,680.4958,355.9930)">80</text>
<text font-weight="normal" letter-spacing="30" stroke-width="8.84" transform="matrix(0.0377,0.0000,0.0000,0.0542,678.6340,376.1915)">160</text>
<text font-weight="normal" letter-spacing="35" stroke-width="6.39" transform="matrix(0.0573,0.0000,0.0000,0.0683,764.1398,50.4634)">1Д56.17–2–С</text>
<text font-weight="normal" letter-spacing="35" stroke-width="6.47" transform="matrix(0.0560,0.0000,0.0000,0.0683,764.8601,69.9634)">1Д56.33–2–С</text>
<text font-weight="normal" letter-spacing="30" stroke-width="12.17" transform="matrix(0.0000,-0.0274,0.0394,0.0000,857.0211,97.1739)">200</text>
<text font-weight="normal" letter-spacing="30" stroke-width="8.05" transform="matrix(0.0000,-0.0444,0.0556,0.0000,857.5887,121.0218)">450</text>
<text font-weight="normal" letter-spacing="30" stroke-width="11.75" transform="matrix(0.0000,-0.0316,0.0366,0.0000,759.5268,110.7165)">220</text>
<text font-weight="normal" letter-spacing="30" stroke-width="11.26" transform="matrix(0.0000,-0.0345,0.0366,0.0000,759.5268,127.6447)">20</text>
<text font-weight="normal" letter-spacing="30" stroke-width="8.84" transform="matrix(0.0409,0.0000,0.0000,0.0500,795.6953,144.2000)">480</text>
<text font-weight="normal" letter-spacing="30" stroke-width="7.15" transform="matrix(0.0463,0.0000,0.0000,0.0676,749.7370,145.9648)">2.13</text>
<text font-weight="normal" letter-spacing="30" stroke-width="6.16" transform="matrix(0.0545,0.0000,0.0000,0.0774,743.9455,206.5000)">А</text>
<text font-weight="normal" letter-spacing="30" stroke-width="8.56" transform="matrix(0.0519,0.0000,0.0000,0.0420,771.2690,190.3000)">КП</text>
<text font-weight="normal" letter-spacing="30" stroke-width="6.93" transform="matrix(0.0506,0.0000,0.0000,0.0659,769.9417,205.0000)">1шт.</text>
<text font-weight="normal" letter-spacing="30" stroke-width="10.39" transform="matrix(0.0000,-0.0319,0.0465,0.0000,757.6070,320.4191)">210</text>
<text font-weight="normal" letter-spacing="30" stroke-width="10.68" transform="matrix(0.0000,-0.0332,0.0423,0.0000,777.6155,302.7319)">20</text>
<text font-weight="normal" letter-spacing="30" stroke-width="11.53" transform="matrix(0.0000,-0.0259,0.0465,0.0000,778.2070,322.1881)">190</text>
<text font-weight="normal" letter-spacing="30" stroke-width="8.61" transform="matrix(0.0398,0.0000,0.0000,0.0542,800.9415,354.2915)">80</text>
<text font-weight="normal" letter-spacing="30" stroke-width="8.34" transform="matrix(0.0424,0.0000,0.0000,0.0542,834.9186,354.2915)">80</text>
<text font-weight="normal" letter-spacing="30" stroke-width="8.66" transform="matrix(0.0394,0.0000,0.0000,0.0542,833.6097,374.4915)">160</text>
</g>
</svg>
</body></html>
